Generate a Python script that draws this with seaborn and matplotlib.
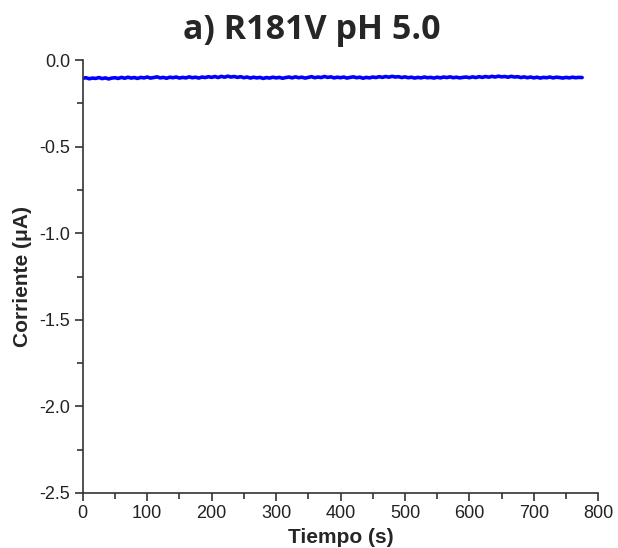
import matplotlib
matplotlib.use('Agg')
import matplotlib.pyplot as plt
import seaborn as sns
import pandas as pd
from matplotlib.ticker import MultipleLocator

corriente = [
    -0.105, -0.102, -0.108, -0.104, -0.106, -0.101, -0.107, -0.103, -0.109, -0.104,
    -0.102, -0.106, -0.100, -0.105, -0.099, -0.104, -0.101, -0.106, -0.100, -0.103,
    -0.098, -0.104, -0.101, -0.097, -0.103, -0.100, -0.105, -0.099, -0.102, -0.098,
    -0.104, -0.100, -0.103, -0.097, -0.102, -0.099, -0.104, -0.098, -0.101, -0.096,
    -0.100, -0.095, -0.101, -0.094, -0.099, -0.093, -0.098, -0.095, -0.100, -0.096,
    -0.102, -0.098, -0.104, -0.099, -0.103, -0.100, -0.106, -0.101, -0.104, -0.099,
    -0.103, -0.100, -0.105, -0.101, -0.098, -0.103, -0.097, -0.102, -0.099, -0.104,
    -0.100, -0.096, -0.102, -0.098, -0.101, -0.095, -0.100, -0.097, -0.103, -0.099,
    -0.102, -0.098, -0.104, -0.100, -0.097, -0.102, -0.099, -0.105, -0.100, -0.103,
    -0.098, -0.101, -0.096, -0.100, -0.095, -0.099, -0.094, -0.098, -0.096, -0.101,
    -0.097, -0.102, -0.099, -0.104, -0.100, -0.103, -0.098, -0.102, -0.100, -0.104,
    -0.099, -0.103, -0.098, -0.101, -0.097, -0.102, -0.099, -0.103, -0.100, -0.098,
    -0.102, -0.097, -0.101, -0.096, -0.100, -0.095, -0.099, -0.094, -0.098, -0.093,
    -0.097, -0.095, -0.099, -0.094, -0.098, -0.096, -0.101, -0.097, -0.102, -0.098,
    -0.103, -0.099, -0.104, -0.100, -0.102, -0.098, -0.103, -0.099, -0.101, -0.104,
    -0.100, -0.103, -0.099, -0.102, -0.100, -0.101,
]
tiempo = list(range(0, 5 * len(corriente), 5))

titulo = 'a) R181V pH 5.0'
x_label = 'Tiempo (s)'
y_label = 'Corriente (\u03bcA)'


def main():
    sns.set_style('ticks')
    plt.rcParams['font.family'] = ['Liberation Sans', 'DejaVu Sans']

    df = pd.DataFrame({'t': tiempo, 'i': corriente})

    fig = plt.figure(figsize=(6.18, 5.48), dpi=100)
    ax = fig.add_axes([0.134, 0.1004, 0.834, 0.790])

    sns.lineplot(data=df, x='t', y='i', color='#0000ff', linewidth=2.6, ax=ax)

    ax.set_xlim(0, 800)
    ax.set_ylim(-2.5, 0.0)
    ax.xaxis.set_major_locator(MultipleLocator(100))
    ax.xaxis.set_minor_locator(MultipleLocator(50))
    ax.yaxis.set_major_locator(MultipleLocator(0.5))
    ax.yaxis.set_minor_locator(MultipleLocator(0.25))
    ax.yaxis.set_major_formatter(matplotlib.ticker.FormatStrFormatter('%.1f'))

    sns.despine(ax=ax)
    for s in ['left', 'bottom']:
        ax.spines[s].set_color('#333333')
        ax.spines[s].set_linewidth(1.2)
    ax.tick_params(which='major', length=6, width=1.2, color='#333333',
                   labelsize=13, labelcolor='#222222', pad=3)
    ax.tick_params(which='minor', length=4, width=1.2, color='#333333')

    ax.set_xlabel(x_label, fontsize=15, fontweight='bold', labelpad=4)
    ax.set_ylabel(y_label, fontsize=15, fontweight='bold', labelpad=5)

    fig.text(0.505, 0.945, titulo, ha='center', va='center', fontsize=24.5,
             fontweight='bold', family=['Open Sans', 'DejaVu Sans'])

    fig.savefig('out.png', dpi=100)


if __name__ == '__main__':
    main()
